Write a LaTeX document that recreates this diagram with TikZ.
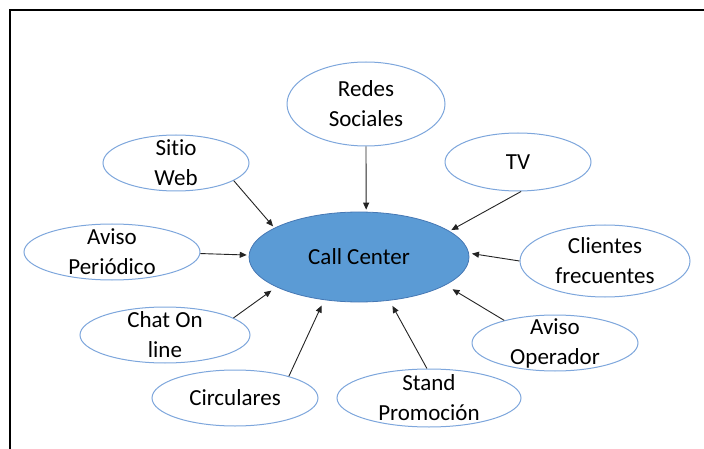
\documentclass[tikz,border=0pt]{standalone}
\usepackage{fontspec}
\setmainfont{Carlito}[Ligatures={NoCommon}]
\usetikzlibrary{shapes.geometric,arrows.meta}
\definecolor{srcline}{RGB}{125,166,220}
\definecolor{hubfill}{RGB}{91,155,213}
\definecolor{hubline}{RGB}{70,120,180}
\definecolor{arrowc}{RGB}{35,35,35}
\tikzset{
  txt/.style={align=center, font=\fontsize{23}{30}\selectfont, inner sep=0pt, text=black},
  src/.style 2 args={ellipse, draw=srcline, line width=1pt, fill=white,
    minimum width=#1, minimum height=#2, inner sep=0pt},
  hub/.style={ellipse, draw=hubline, line width=0.8pt, fill=hubfill,
    minimum width=220, minimum height=90, inner sep=0pt},
  feed/.style={draw=arrowc, line width=0.9pt, -{Triangle[length=7pt,width=6pt]}},
}
\begin{document}
\begin{tikzpicture}[x=1pt,y=-1pt]
\useasboundingbox (0,0) rectangle (704,449);
% open frame: top and left edges
\draw[line width=2pt] (10,449) -- (10,10) -- (704,10);

% central node
\node[hub, label={[txt]center:Call Center}] (cc) at (359,257) {};

% sources
\node[src={158}{84}, label={[txt]center:{Redes\\Sociales}}] (rs) at (366,104) {};
\node[src={146}{56}, label={[txt]center:{Sitio\\Web}}] (sw) at (176,163) {};
\node[src={176}{56}, label={[txt]center:{Aviso\\Periódico}}] (ap) at (112,252) {};
\node[src={170}{56}, label={[txt]center:{Chat On\\line}}] (ch) at (165,335) {};
\node[src={166}{56}, label={[txt]center:Circulares}] (ci) at (235,398) {};
\node[src={184}{58}, label={[txt]center:{Stand\\Promoción}}] (st) at (429,398) {};
\node[src={166}{56}, label={[txt]center:{Aviso\\Operador}}] (ao) at (555,343) {};
\node[src={170}{72}, label={[txt]center:{Clientes\\frecuentes}}] (cl) at (605,261) {};
\node[src={146}{58}, label={[txt]center:TV}] (tv) at (518,162) {};

% connectors into the hub
\draw[feed, shorten >=2pt] (rs.south) -- (cc.81);
\draw[feed, shorten >=2pt] (sw.-17) -- (cc.161);
\draw[feed, shorten >=2pt] (ap.-1) -- (cc.179);
\draw[feed, shorten >=6pt] (ch.14) -- (cc.200);
\draw[feed, shorten >=6pt] (ci.22) -- (cc.231);
\draw[feed, shorten >=6pt] (st.94) -- (cc.-55);
\draw[feed, shorten >=8pt] (ao.156) -- (cc.-18);
\draw[feed, shorten >=3pt] (cl.180) -- (cc.2);
\draw[feed, shorten >=2pt] (tv.-84) -- (cc.16);
\end{tikzpicture}
\end{document}
